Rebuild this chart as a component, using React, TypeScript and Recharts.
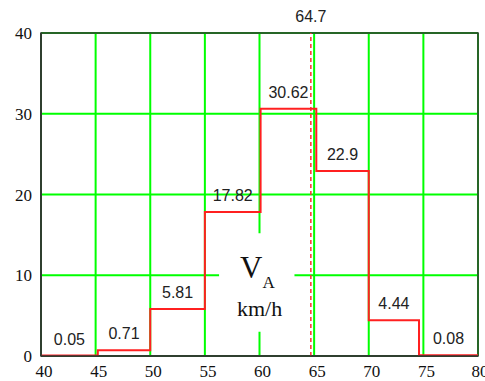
import React from 'react';
import {
  ComposedChart,
  Line,
  Scatter,
  XAxis,
  YAxis,
  CartesianGrid,
  ReferenceLine,
  ReferenceArea,
} from 'recharts';

// Bin edges (km/h) and frequencies (%)
const binEdges = [40, 45.2, 50, 55, 60.1, 65.2, 70, 74.6, 80];
const frequencies = [0.05, 0.71, 5.81, 17.82, 30.62, 22.9, 4.44, 0.08];
const xTicks = [40, 45, 50, 55, 60, 65, 70, 75, 80];
const yTicks = [0, 10, 20, 30, 40];
const meanSpeed = 64.7;

const stepData = binEdges.map((x, i) => ({
  x,
  y: frequencies[Math.min(i, frequencies.length - 1)],
}));

const labelData = frequencies.map((v, i) => ({
  x: (binEdges[i] + binEdges[i + 1]) / 2,
  y: v,
  text: String(v),
}));

const sans = '"Liberation Sans", Arial, sans-serif';
const serif = '"Liberation Serif", "Times New Roman", serif';

const ValueLabel = (props: any) => {
  const { cx, cy, payload } = props;
  if (cx == null || cy == null) return null;
  return (
    <text
      x={cx}
      y={cy - 11}
      textAnchor="middle"
      fontFamily={sans}
      fontSize={16}
      fill="#222"
    >
      {payload.text}
    </text>
  );
};

const XTick = (props: any) => {
  const { x, y, payload } = props;
  return (
    <text
      x={x + 3}
      y={y + 19}
      textAnchor="middle"
      fontFamily={serif}
      fontSize={17}
      fill="#111"
    >
      {payload.value}
    </text>
  );
};

const YTick = (props: any) => {
  const { x, y, payload } = props;
  return (
    <text
      x={x}
      y={y + 6}
      textAnchor="end"
      fontFamily={serif}
      fontSize={17}
      fill="#111"
    >
      {payload.value}
    </text>
  );
};

const VaLabel = (props: any) => {
  const vb = props.viewBox || {};
  const x = vb.x ?? 0;
  const y = vb.y ?? 0;
  return (
    <g>
      <text x={x + 21} y={y + 45} fontFamily={serif} fontSize={31} fill="#111">
        V
        <tspan fontSize={17} dy={10}>
          A
        </tspan>
      </text>
      <text
        x={x + 40.5}
        y={y + 83}
        textAnchor="middle"
        fontFamily={serif}
        fontSize={22}
        fill="#111"
      >
        km/h
      </text>
    </g>
  );
};

export default function App() {
  return (
    <div style={{ position: 'absolute', left: 0, top: 0, background: '#fff' }}>
      <ComposedChart
        width={485}
        height={381}
        margin={{ top: 33, right: 7, left: 0, bottom: 0 }}
      >
        <CartesianGrid stroke="#00ff00" strokeWidth={2} />
        <XAxis
          type="number"
          dataKey="x"
          domain={[40, 80]}
          ticks={xTicks}
          allowDataOverflow
          height={25}
          tickSize={0}
          tickMargin={2}
          axisLine={{ stroke: '#333', strokeWidth: 1.5 }}
          tick={XTick}
        />
        <YAxis
          type="number"
          dataKey="y"
          domain={[0, 40]}
          ticks={yTicks}
          allowDataOverflow
          width={41}
          tickSize={0}
          tickMargin={9}
          axisLine={{ stroke: '#333', strokeWidth: 1.5 }}
          tick={YTick}
        />
        <ReferenceArea
          x1={56.3}
          x2={63.2}
          y1={3}
          y2={15.2}
          fill="#ffffff"
          fillOpacity={1}
          stroke="none"
          label={VaLabel}
        />
        <ReferenceArea
          x1={40}
          x2={80}
          y1={0}
          y2={40}
          fill="none"
          fillOpacity={0}
          stroke="#333"
          strokeWidth={1.5}
        />
        <ReferenceLine
          x={meanSpeed}
          stroke="#ff3030"
          strokeWidth={1.5}
          strokeDasharray="4 3"
          label={{
            value: String(meanSpeed),
            position: 'top',
            offset: 11,
            fill: '#222',
            fontFamily: sans,
            fontSize: 16,
          }}
        />
        <Line
          data={stepData}
          dataKey="y"
          type="stepAfter"
          stroke="#ff2020"
          strokeWidth={2}
          dot={false}
          activeDot={false}
          isAnimationActive={false}
        />
        <Scatter
          data={labelData}
          dataKey="y"
          shape={ValueLabel}
          isAnimationActive={false}
        />
      </ComposedChart>
    </div>
  );
}
